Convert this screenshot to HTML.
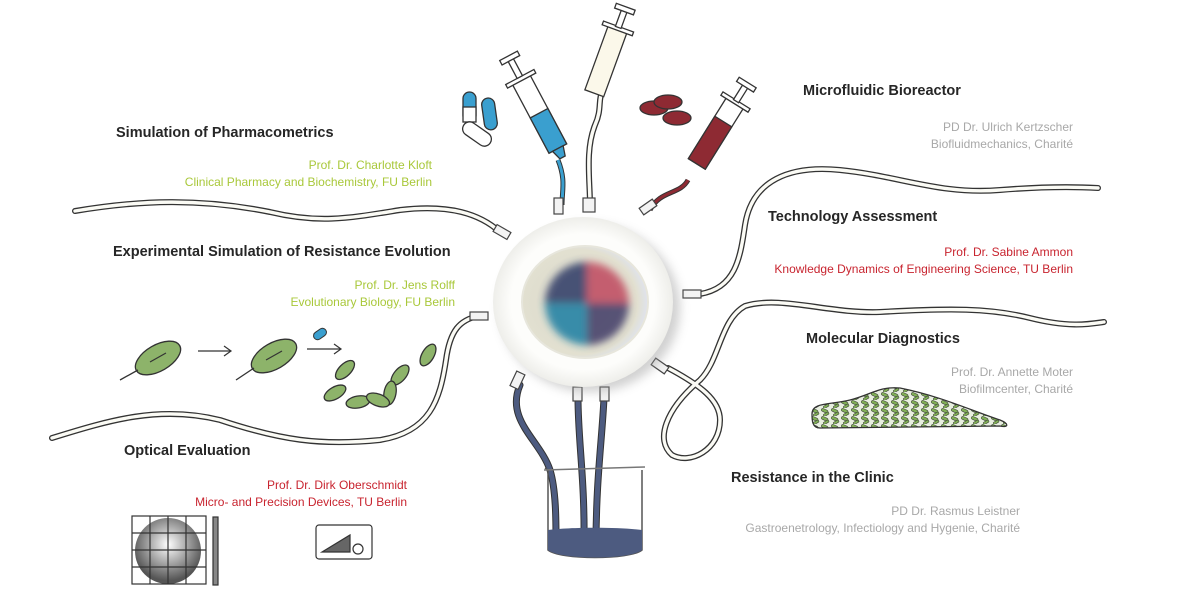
<!DOCTYPE html>
<html><head><meta charset="utf-8"><style>
html,body{margin:0;padding:0;background:#fff;width:1200px;height:600px;overflow:hidden}
svg{display:block}
text{font-family:"Liberation Sans",sans-serif}
.h{font-size:14.5px;font-weight:bold;fill:#262626}
.g{font-size:12px;fill:#a9c83a}
.r{font-size:12px;fill:#c8242f}
.k{font-size:12px;fill:#a8a8a8}
.to{fill:none;stroke:#333;stroke-width:6;stroke-linecap:round}
.ti{fill:none;stroke:#fbfbf5;stroke-width:3.4;stroke-linecap:round}
.bo{fill:none;stroke:#333;stroke-width:7;stroke-linecap:round}
.bi{fill:none;stroke:#4d5b80;stroke-width:5;stroke-linecap:round}
.cn{fill:#f3f3f3;stroke:#444;stroke-width:1.2}
</style></head><body>
<svg width="1200" height="600" viewBox="0 0 1200 600">
<defs>
<radialGradient id="dg" cx="50%" cy="50%" r="50%">
<stop offset="0.8" stop-color="#fdfdfb"/><stop offset="1" stop-color="#eeeeea"/></radialGradient>
<radialGradient id="wg" cx="45%" cy="50%" r="55%">
<stop offset="0" stop-color="#d9d8cc"/><stop offset="0.85" stop-color="#e2e0d0"/><stop offset="1" stop-color="#dfe3ee"/></radialGradient>
<filter id="bl"><feGaussianBlur stdDeviation="4"/></filter>
<filter id="sh"><feGaussianBlur stdDeviation="5"/></filter>
<radialGradient id="sp" cx="50%" cy="40%" r="55%"><stop offset="0" stop-color="#fff"/><stop offset="1" stop-color="#555"/></radialGradient>
<pattern id="bf" width="10" height="8" patternUnits="userSpaceOnUse">
<rect width="10" height="8" fill="#e8efe0"/>
<rect x="1" y="1" width="7" height="3" rx="1.5" fill="#7fae55" stroke="#333" stroke-width="0.5" transform="rotate(25 4 3)"/>
<rect x="3" y="5" width="6" height="2.5" rx="1.2" fill="#7fae55" stroke="#333" stroke-width="0.5" transform="rotate(-30 6 6)"/>
</pattern>
</defs>

<g>
<path d="M75,211 C140,200 200,198 270,212 C320,224 350,218 400,210 C450,204 480,214 500,232" class="to"/>
<path d="M75,211 C140,200 200,198 270,212 C320,224 350,218 400,210 C450,204 480,214 500,232" class="ti"/>
<path d="M52,438 C110,420 160,405 220,420 C280,440 320,446 380,440 C430,432 440,400 446,360 C450,330 460,320 478,316" class="to"/>
<path d="M52,438 C110,420 160,405 220,420 C280,440 320,446 380,440 C430,432 440,400 446,360 C450,330 460,320 478,316" class="ti"/>
<path d="M700,294 C735,288 740,260 745,225 C752,180 790,165 840,170 C900,176 940,195 1000,190 C1050,186 1080,187 1098,188" class="to"/>
<path d="M700,294 C735,288 740,260 745,225 C752,180 790,165 840,170 C900,176 940,195 1000,190 C1050,186 1080,187 1098,188" class="ti"/>
<path d="M668,368 C700,385 720,400 720,420 C720,450 690,465 672,455 C655,440 665,410 700,380 C720,360 720,320 745,306 C780,295 830,314 880,312 C950,308 990,308 1030,318 C1070,328 1090,324 1104,322" class="to"/>
<path d="M668,368 C700,385 720,400 720,420 C720,450 690,465 672,455 C655,440 665,410 700,380 C720,360 720,320 745,306 C780,295 830,314 880,312 C950,308 990,308 1030,318 C1070,328 1090,324 1104,322" class="ti"/>
<path d="M590,205 C590,180 585,150 595,125 C602,110 598,100 602,92" class="to"/>
<path d="M590,205 C590,180 585,150 595,125 C602,110 598,100 602,92" class="ti"/>
<path d="M562,205 C562,190 566,180 558,160" fill="none" stroke="#333" stroke-width="5"/>
<path d="M562,205 C562,190 566,180 558,160" fill="none" stroke="#3a9fcf" stroke-width="3"/>
<path d="M650,210 C660,190 680,195 688,180" fill="none" stroke="#333" stroke-width="5"/>
<path d="M650,210 C660,190 680,195 688,180" fill="none" stroke="#8e2a33" stroke-width="3"/>
<path d="M520,385 C505,420 540,440 550,470 C556,490 556,520 556,540" class="bo"/>
<path d="M520,385 C505,420 540,440 550,470 C556,490 556,520 556,540" class="bi"/>
<path d="M578,398 C578,440 585,480 584,545" class="bo"/><path d="M578,398 C578,440 585,480 584,545" class="bi"/>
<path d="M604,398 C602,440 596,480 596,545" class="bo"/><path d="M604,398 C602,440 596,480 596,545" class="bi"/>
</g>

<g>
<rect x="494" y="228" width="16" height="8" class="cn" transform="rotate(30 502 232)"/>
<rect x="470" y="312" width="18" height="8" class="cn"/>
<rect x="554" y="198" width="9" height="16" class="cn"/>
<rect x="583" y="198" width="12" height="14" class="cn"/>
<rect x="640" y="203" width="16" height="8" class="cn" transform="rotate(-35 648 207)"/>
<rect x="683" y="290" width="18" height="8" class="cn"/>
<rect x="652" y="362" width="16" height="8" class="cn" transform="rotate(35 660 366)"/>
<rect x="513" y="372" width="9" height="16" class="cn" transform="rotate(25 517 380)"/>
<rect x="573" y="387" width="9" height="14" class="cn"/>
<rect x="600" y="387" width="9" height="14" class="cn"/>
</g>

<ellipse cx="590" cy="308" rx="90" ry="84" fill="#999" opacity="0.45" filter="url(#sh)"/>
<ellipse cx="583" cy="302" rx="90" ry="85" fill="url(#dg)"/>
<ellipse cx="585" cy="302" rx="63" ry="56" fill="url(#wg)" stroke="#e7e6dc" stroke-width="2"/>
<g filter="url(#bl)" opacity="0.85">
<path d="M587,303 L587,262 A42,42 0 0 0 545,303 Z" fill="#2f3a66"/>
<path d="M587,303 L545,303 A42,42 0 0 0 587,345 Z" fill="#1c7fa3"/>
<path d="M587,303 L587,345 A42,42 0 0 0 629,303 Z" fill="#3f3a66"/>
<path d="M587,303 L629,303 A42,42 0 0 0 587,262 Z" fill="#c04a5f"/>
</g>

<g stroke="#333" stroke-width="1.3">
<g transform="rotate(-28 540 115)">
<rect x="530" y="75" width="20" height="78" fill="#fff"/>
<rect x="530" y="113" width="20" height="40" fill="#3a9fcf"/>
<rect x="524" y="72" width="32" height="4" fill="#fff"/>
<rect x="537" y="52" width="6" height="20" fill="#fff"/>
<rect x="530" y="48" width="20" height="5" fill="#fff"/>
<path d="M534,153 L546,153 L543,163 L537,163Z" fill="#3a9fcf"/>
</g>
<g transform="rotate(20 610 50)">
<rect x="600" y="28" width="20" height="68" fill="#fbf8ea"/>
<rect x="594" y="25" width="32" height="4" fill="#fff"/>
<rect x="607" y="8" width="6" height="18" fill="#fff"/>
<rect x="600" y="4" width="20" height="5" fill="#fff"/>
</g>
<g transform="rotate(32 718 130)">
<rect x="708" y="98" width="20" height="72" fill="#fff"/>
<rect x="708" y="120" width="20" height="50" fill="#8e2a33"/>
<rect x="702" y="95" width="32" height="4" fill="#fff"/>
<rect x="715" y="78" width="6" height="18" fill="#fff"/>
<rect x="708" y="74" width="20" height="5" fill="#fff"/>
</g>
</g>
<g stroke="#333" stroke-width="1.3">
<rect x="463" y="92" width="13" height="30" rx="6.5" fill="#3a9fcf"/>
<rect x="463" y="107" width="13" height="15" fill="#fff"/>
<rect x="483" y="98" width="13" height="32" rx="6.5" fill="#3a9fcf" transform="rotate(-8 489 114)"/>
<rect x="470" y="118" width="14" height="32" rx="7" fill="#fff" transform="rotate(-55 477 134)"/>
<ellipse cx="654" cy="108" rx="14" ry="7" fill="#8e2a33"/>
<ellipse cx="668" cy="102" rx="14" ry="7" fill="#8e2a33"/>
<ellipse cx="677" cy="118" rx="14" ry="7" fill="#8e2a33"/>
</g>

<path d="M545,468 L548,470 L548,550 C560,560 630,560 642,550 L642,470" fill="none" stroke="#555" stroke-width="1.5"/>
<path d="M548,530 C570,527 620,527 642,530 L642,550 C630,560 560,560 548,550Z" fill="#4d5b80"/>
<line x1="544" y1="470" x2="645" y2="467" stroke="#777" stroke-width="1.5"/>

<g stroke="#333" stroke-width="1.3" fill="#8db36a">
<ellipse cx="158" cy="358" rx="25" ry="13" transform="rotate(-30 158 358)"/>
<ellipse cx="274" cy="356" rx="25" ry="13" transform="rotate(-30 274 356)"/>
<path d="M138,370 L120,380" fill="none"/><path d="M254,368 L236,380" fill="none"/>
<ellipse cx="428" cy="355" rx="6" ry="12" transform="rotate(30 428 355)"/>
<ellipse cx="400" cy="375" rx="6" ry="12" transform="rotate(40 400 375)"/>
<ellipse cx="345" cy="370" rx="6" ry="12" transform="rotate(45 345 370)"/>
<ellipse cx="390" cy="393" rx="6" ry="12" transform="rotate(10 390 393)"/>
<ellipse cx="335" cy="393" rx="6" ry="12" transform="rotate(60 335 393)"/>
<ellipse cx="358" cy="402" rx="6" ry="12" transform="rotate(80 358 402)"/>
<ellipse cx="378" cy="400" rx="6" ry="12" transform="rotate(-70 378 400)"/>
</g>
<g stroke="#333" stroke-width="1.2" fill="none">
<path d="M150,362 L166,353"/><path d="M266,360 L282,351"/>
<path d="M198,351 L230,351 M224,346 L231,351 L224,356"/>
<path d="M307,349 L340,349 M334,344 L341,349 L334,354"/>
</g>
<rect x="313" y="330" width="14" height="8" rx="4" fill="#3a9fcf" stroke="#333" transform="rotate(-35 320 334)"/>

<path d="M812,414 C812,402 830,405 850,400 C870,395 880,386 900,388 C940,396 970,410 1000,420 C1010,424 1008,428 1000,426 L820,428 C812,428 812,420 812,414Z" fill="url(#bf)" stroke="#333" stroke-width="1.3"/>

<circle cx="168" cy="551" r="33" fill="url(#sp)"/>
<g stroke="#333" stroke-width="1.2" fill="none">
<rect x="132" y="516" width="74" height="68"/>
<path d="M132,533H206M132,550H206M132,567H206M150,516V584M168,516V584M186,516V584"/>
<rect x="213" y="517" width="5" height="68" fill="#888"/>
<rect x="316" y="525" width="56" height="34" rx="3" fill="#fff"/>
<path d="M322,552 L350,552 L350,535Z" fill="#666"/>
<circle cx="358" cy="549" r="5"/>
</g>

<text class="h" x="116" y="137">Simulation of Pharmacometrics</text>
<text class="g" x="432" y="169" text-anchor="end">Prof. Dr. Charlotte Kloft</text>
<text class="g" x="432" y="186" text-anchor="end">Clinical Pharmacy and Biochemistry, FU Berlin</text>
<text class="h" x="113" y="256">Experimental Simulation of Resistance Evolution</text>
<text class="g" x="455" y="289" text-anchor="end">Prof. Dr. Jens Rolff</text>
<text class="g" x="455" y="306" text-anchor="end">Evolutionary Biology, FU Berlin</text>
<text class="h" x="124" y="455">Optical Evaluation</text>
<text class="r" x="407" y="489" text-anchor="end">Prof. Dr. Dirk Oberschmidt</text>
<text class="r" x="407" y="506" text-anchor="end">Micro- and Precision Devices, TU Berlin</text>

<text class="h" x="803" y="95">Microfluidic Bioreactor</text>
<text class="k" x="1073" y="131" text-anchor="end">PD Dr. Ulrich Kertzscher</text>
<text class="k" x="1073" y="148" text-anchor="end">Biofluidmechanics, Charité</text>
<text class="h" x="768" y="221">Technology Assessment</text>
<text class="r" x="1073" y="256" text-anchor="end">Prof. Dr. Sabine Ammon</text>
<text class="r" x="1073" y="273" text-anchor="end">Knowledge Dynamics of Engineering Science, TU Berlin</text>
<text class="h" x="806" y="343">Molecular Diagnostics</text>
<text class="k" x="1073" y="376" text-anchor="end">Prof. Dr. Annette Moter</text>
<text class="k" x="1073" y="393" text-anchor="end">Biofilmcenter, Charité</text>
<text class="h" x="731" y="482">Resistance in the Clinic</text>
<text class="k" x="1020" y="515" text-anchor="end">PD Dr. Rasmus Leistner</text>
<text class="k" x="1020" y="532" text-anchor="end">Gastroenetrology, Infectiology and Hygenie, Charité</text>
</svg>
</body></html>
